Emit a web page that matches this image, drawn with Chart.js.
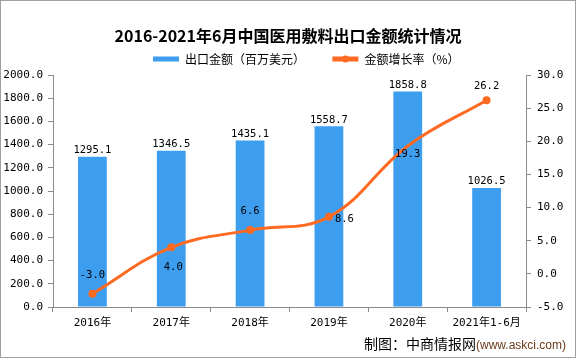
<!DOCTYPE html>
<html>
<head>
<meta charset="utf-8">
<script src="https://cdn.jsdelivr.net/npm/chart.js@4/dist/chart.umd.min.js"></script>
<style>
  html, body { margin: 0; padding: 0; background: #fff; }
  #wrap { width: 576px; height: 358px; position: relative; }
</style>
</head>
<body>
<div id="wrap"><canvas id="c" width="576" height="358"></canvas></div>
<script>
const categories = ['2016年', '2017年', '2018年', '2019年', '2020年', '2021年1-6月'];
const exportValues = [1295.1, 1346.5, 1435.1, 1558.7, 1858.8, 1026.5];
const growthRates = [-3.0, 4.0, 6.6, 8.6, 19.3, 26.2];
const seriesNames = ['出口金额（百万美元）', '金额增长率（%）'];
const titleText = '2016-2021年6月中国医用敷料出口金额统计情况';
const footerMain = '制图：中商情报网';
const footerSite = '(www.askci.com)';

const BLUE = '#3d9ef0';
const ORANGE = '#ff6a22';
const AXIS = '#8c8c8c';
const MONO = '"DejaVu Sans Mono", "Noto Sans CJK SC", monospace';

const labelPlugin = {
  id: 'valueLabels',
  afterDatasetsDraw(chart, args, opts) {
    const ctx = chart.ctx;
    ctx.save();
    ctx.font = '10.5px ' + MONO;
    ctx.fillStyle = '#000';
    const barMeta = chart.getDatasetMeta(0);
    barMeta.data.forEach((el, i) => {
      ctx.textAlign = 'center';
      ctx.textBaseline = 'bottom';
      ctx.fillText(exportValues[i].toFixed(1), el.x, el.y - 1);
    });
    const lineMeta = chart.getDatasetMeta(1);
    const place = opts.linePlacement;
    lineMeta.data.forEach((el, i) => {
      const p = place[i];
      ctx.textAlign = p.align;
      ctx.textBaseline = 'middle';
      ctx.fillText(growthRates[i].toFixed(1), el.x + p.dx, el.y + p.dy);
    });
    ctx.restore();
  }
};

const legendShift = {
  id: 'legendShift',
  afterLayout(chart) {
    const lg = chart.legend;
    if (!lg || !lg.lineWidths) return;
    const pad = chart.options.plugins.legend.labels.padding;
    // place first legend box at x = 153 (centre alignment formula inverted)
    lg.left = 2 * 153 - pad - lg.right + lg.lineWidths[0];
  }
};

const decoPlugin = {
  id: 'deco',
  afterDraw(chart) {
    const ctx = chart.ctx;
    ctx.save();
    const lg = chart.legend;
    if (lg && lg.legendHitBoxes && lg.legendHitBoxes[1]) {
      const hb = lg.legendHitBoxes[1];
      const bw = chart.options.plugins.legend.labels.boxWidth;
      ctx.fillStyle = ORANGE;
      ctx.beginPath();
      ctx.arc(hb.left + bw / 2, hb.top + hb.height / 2, 3.5, 0, Math.PI * 2);
      ctx.fill();
    }
    ctx.textBaseline = 'alphabetic';
    ctx.textAlign = 'right';
    ctx.font = '12px "Liberation Sans", "Noto Sans CJK SC", sans-serif';
    ctx.fillStyle = '#6b3a1a';
    const siteW = ctx.measureText(footerSite).width;
    ctx.fillText(footerSite, 566, 349);
    ctx.font = '14px "Noto Sans CJK SC", sans-serif';
    ctx.fillStyle = '#000';
    ctx.fillText(footerMain, 566 - siteW, 349);
    ctx.strokeStyle = '#a0a0a0';
    ctx.lineWidth = 1;
    ctx.strokeRect(0.5, 0.5, 575, 357);
    ctx.restore();
  }
};

new Chart(document.getElementById('c'), {
  data: {
    labels: categories,
    datasets: [
      {
        type: 'bar',
        label: seriesNames[0],
        data: exportValues,
        backgroundColor: BLUE,
        borderWidth: 0,
        yAxisID: 'y',
        barPercentage: 0.365,
        categoryPercentage: 1.0,
        order: 2
      },
      {
        type: 'line',
        label: seriesNames[1],
        data: growthRates,
        borderColor: ORANGE,
        backgroundColor: ORANGE,
        borderWidth: 3,
        tension: 0.4,
        pointRadius: [4, 4, 4, 4, 0, 4],
        pointBackgroundColor: ORANGE,
        pointBorderWidth: 0,
        yAxisID: 'y1',
        order: 1
      }
    ]
  },
  options: {
    responsive: false,
    animation: false,
    devicePixelRatio: 1,
    layout: { padding: { top: 0, left: 0, right: 0, bottom: 0 } },
    plugins: {
      title: {
        display: true,
        text: titleText,
        color: '#000',
        font: { family: '"Noto Sans CJK SC", sans-serif', size: 16, weight: 'bold' },
        padding: { top: 25, bottom: 0 }
      },
      legend: {
        display: true,
        position: 'top',
        labels: {
          color: '#000',
          font: { family: '"Noto Sans CJK SC", sans-serif', size: 12 },
          boxWidth: 26,
          boxHeight: 5,
          padding: 7,
          sort: (a, b) => a.datasetIndex - b.datasetIndex,
          generateLabels(chart) {
            const items = Chart.defaults.plugins.legend.labels.generateLabels(chart);
            items.forEach(it => {
              if (it.datasetIndex === 0) it.text = it.text + '\u2003\u2002\u2009';
              it.lineWidth = 0;
            });
            return items;
          }
        }
      },
      tooltip: { enabled: false },
      valueLabels: {
        linePlacement: [
          { align: 'center', dx: 0, dy: -18 },
          { align: 'center', dx: 2, dy: 20 },
          { align: 'center', dx: 0, dy: -19 },
          { align: 'left', dx: 6, dy: 2 },
          { align: 'center', dx: 0, dy: 8 },
          { align: 'center', dx: 0, dy: -14 }
        ]
      }
    },
    scales: {
      x: {
        offset: true,
        grid: { display: true, offset: true, drawOnChartArea: false, drawTicks: true, tickLength: 5, color: AXIS },
        border: { display: true, color: AXIS },
        ticks: { color: '#000', font: { family: MONO, size: 11 }, padding: 5, maxRotation: 0, autoSkip: false },
        afterFit(scale) { scale.height = 51; }
      },
      y: {
        position: 'left',
        min: 0, max: 2000,
        ticks: { stepSize: 200, color: '#000', font: { family: MONO, size: 11 }, padding: 5,
          callback: v => Number(v).toFixed(1) },
        grid: { drawOnChartArea: false, drawTicks: true, tickLength: 5, color: AXIS },
        border: { display: true, color: AXIS },
        afterFit(scale) { scale.width = 53; scale.paddingTop = 75; }
      },
      y1: {
        position: 'right',
        min: -5, max: 30,
        ticks: { stepSize: 5, color: '#000', font: { family: MONO, size: 11 }, padding: 6,
          callback: v => Number(v).toFixed(1) },
        grid: { drawOnChartArea: false, drawTicks: true, tickLength: 5, color: AXIS },
        border: { display: true, color: AXIS },
        afterFit(scale) { scale.width = 50; }
      }
    }
  },
  plugins: [legendShift, labelPlugin, decoPlugin]
});
</script>
</body>
</html>
